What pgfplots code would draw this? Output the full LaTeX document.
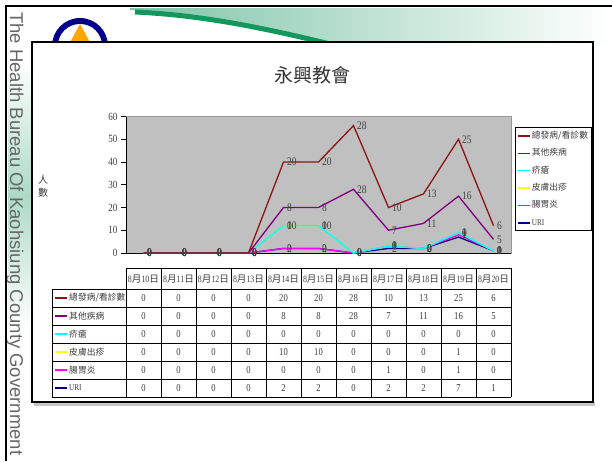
\documentclass[border=0pt]{standalone}
\usepackage{fontspec}
\setmainfont{Liberation Serif}
\newfontfamily\cjk{Noto Sans CJK TC}
\newfontfamily\sans{Liberation Sans}
\newfontfamily\num{Liberation Serif}[FakeStretch=0.82]
\usepackage{pgfplots}
\usepackage{pgfplotstable}
\pgfplotsset{compat=1.18}

\definecolor{cTot}{RGB}{140,20,20}
\definecolor{cOth}{RGB}{128,0,128}
\definecolor{cSca}{RGB}{0,255,255}
\definecolor{cRash}{RGB}{255,255,0}
\definecolor{cGas}{RGB}{255,0,255}
\definecolor{cURI}{RGB}{0,0,128}
\definecolor{plotgray}{RGB}{192,192,192}
\definecolor{txt}{RGB}{60,60,60}
\definecolor{swoosh}{RGB}{20,150,95}

\pgfplotstableread{
x total other scab rash gastro uri
0  0  0 0  0 0 0
1  0  0 0  0 0 0
2  0  0 0  0 0 0
3  0  0 0  0 0 0
4  20 8 0 10 0 2
5  20 8 0 10 0 2
6  28 28 0 0 0 0
7  10 7 0  0 1 2
8  13 11 0 0 0 2
9  25 16 0 1 1 7
10 6  5 0  0 0 1
}\data

\newcommand{\hd}[1]{{\num 8}{\cjk 月}{\num #1}{\cjk 日}}

\begin{document}
\begin{tikzpicture}
\path[use as bounding box] (0,0) rectangle (612pt,-461pt);
\begin{scope}[x=1pt,y=-1pt]
  % background decoration
  \shade[left color=swoosh!55, right color=white] (130,10) .. controls (200,14) and (260,26) .. (330,44) -- (612,44) -- (612,8) -- (130,8) -- cycle;
  \draw[swoosh, line width=5pt] (135,12) .. controls (200,15) and (260,27) .. (330,44);
  \shade[top color=white, bottom color=white, middle color=swoosh!35] (8,60) rectangle (31,330);
  \fill[blue!55!black] (80,46) circle (28);
  \fill[white] (80,46) circle (22);
  \fill[orange!70!yellow] (80,24) -- (92,46) -- (68,46) -- cycle;
  \node[rotate=-90, anchor=west, inner sep=0pt, text=black!60] at (15,12)
     {\sans\fontsize{18.5}{18.5}\selectfont The Health Bureau Of Kaohsiung County Government};
  \draw[line width=2.2pt] (6,461) -- (6,6) -- (612,6);
  % chart box
  \fill[gray!45] (34,402) rectangle (595,406);
  \draw[line width=1.4pt, fill=white] (32,42) rectangle (593,402);
  % title and y label
  \node[text=black!80] at (312,75) {\cjk\fontsize{19}{19}\selectfont 永興教會};
  \node[text=txt] at (43,180) {\cjk\fontsize{10}{10}\selectfont 人};
  \node[text=txt] at (43,193) {\cjk\fontsize{10}{10}\selectfont 數};
\end{scope}

\begin{axis}[
  at={(126pt,-253pt)}, anchor=south west,
  scale only axis, width=385pt, height=136.5pt,
  xmin=-0.5, xmax=10.5, ymin=0, ymax=60,
  clip=false,
  axis background/.style={fill=plotgray, draw=gray!80, line width=0.5pt},
  axis x line*=bottom, axis y line*=left,
  axis line style={black, line width=0.9pt},
  xtick=\empty,
  ytick={0,10,...,60},
  tick align=outside, major tick length=5pt,
  tick style={black, line width=0.8pt},
  yticklabel style={font=\num\fontsize{11}{11}\selectfont, text=txt},
  /pgf/number format/assume math mode=true,
  stack plots=y,
  reverse stacked plots=false,
  point meta=explicit,
  nodes near coords,
  nodes near coords style={font=\num\fontsize{11.5}{11.5}\selectfont, text=black!75, anchor=west, inner sep=1pt, xshift=2pt},
  every axis plot/.append style={line width=1.3pt, no markers},
  legend image code/.code={\draw[#1, line width=1.4pt] (0pt,0pt) -- (12pt,0pt);},
  reverse legend,
  legend cell align=left,
  legend style={at={(1.0104,0.92)}, anchor=north west, draw=black, line width=0.8pt,
    inner sep=2pt, row sep=5.4pt,
    font=\cjk\fontsize{8.8}{9}\selectfont,
    nodes={inner sep=1pt, text height=7.5pt, text depth=2.5pt, text=txt}},
]
\addplot[cURI] table[x=x, y=uri, meta=uri]{\data};
\addlegendentry{{\num URI}}
\addplot[cGas] table[x=x, y=gastro, meta=gastro]{\data};
\addlegendentry{腸胃炎}
\addplot[cRash, line width=1.1pt] table[x=x, y=rash, meta=rash]{\data};
\addlegendentry{皮膚出疹}
\addplot[cSca, line width=1.4pt] table[x=x, y=scab, meta=scab]{\data};
\addlegendentry{疥瘡}
\addplot[cOth] table[x=x, y=other, meta=other]{\data};
\addlegendentry{其他疾病}
\addplot[cTot] table[x=x, y=total, meta=total]{\data};
\addlegendentry{總發病/看診數}
\end{axis}

\begin{scope}[x=1pt,y=-1pt]
  % data table
  \draw[line width=0.8pt] (126,268) -- (511,268);
  \foreach \k in {0,...,6} {\draw[line width=0.8pt] (52,289+18*\k) -- (511,289+18*\k);}
  \draw[line width=0.8pt] (52,289) -- (52,397);
  \foreach \k in {0,...,11} {\draw[line width=0.8pt] (126+35*\k,268) -- (126+35*\k,397);}
  \foreach \d [count=\i from 0] in {10,11,12,13,14,15,16,17,18,19,20}
    {\node[text=txt, inner sep=0pt] at (143.5+35*\i,279) {\fontsize{9.6}{10}\selectfont\hd{\d}};}
  % row labels
  \foreach \c/\t [count=\r from 0] in {cTot/{總發病/看診數}, cOth/{其他疾病}, cSca/{疥瘡}, cRash/{皮膚出疹}, cGas/{腸胃炎}, cURI/{{\num URI}}} {
    \draw[\c, line width=1.2pt] (55,298+18*\r) -- (67,298+18*\r);
    \node[anchor=west, inner sep=0pt, text=txt] at (69,298+18*\r) {\cjk\fontsize{8.8}{9}\selectfont \t};
  }
  % values
  \foreach \row [count=\r from 0] in {
     {0,0,0,0,20,20,28,10,13,25,6},
     {0,0,0,0,8,8,28,7,11,16,5},
     {0,0,0,0,0,0,0,0,0,0,0},
     {0,0,0,0,10,10,0,0,0,1,0},
     {0,0,0,0,0,0,0,1,0,1,0},
     {0,0,0,0,2,2,0,2,2,7,1}} {
    \foreach \v [count=\i from 0] in \row {
      \node[text=txt, inner sep=0pt] at (143.5+35*\i,298+18*\r) {\num\fontsize{10.5}{10.5}\selectfont \v};
    }
  }
\end{scope}
\end{tikzpicture}
\end{document}
